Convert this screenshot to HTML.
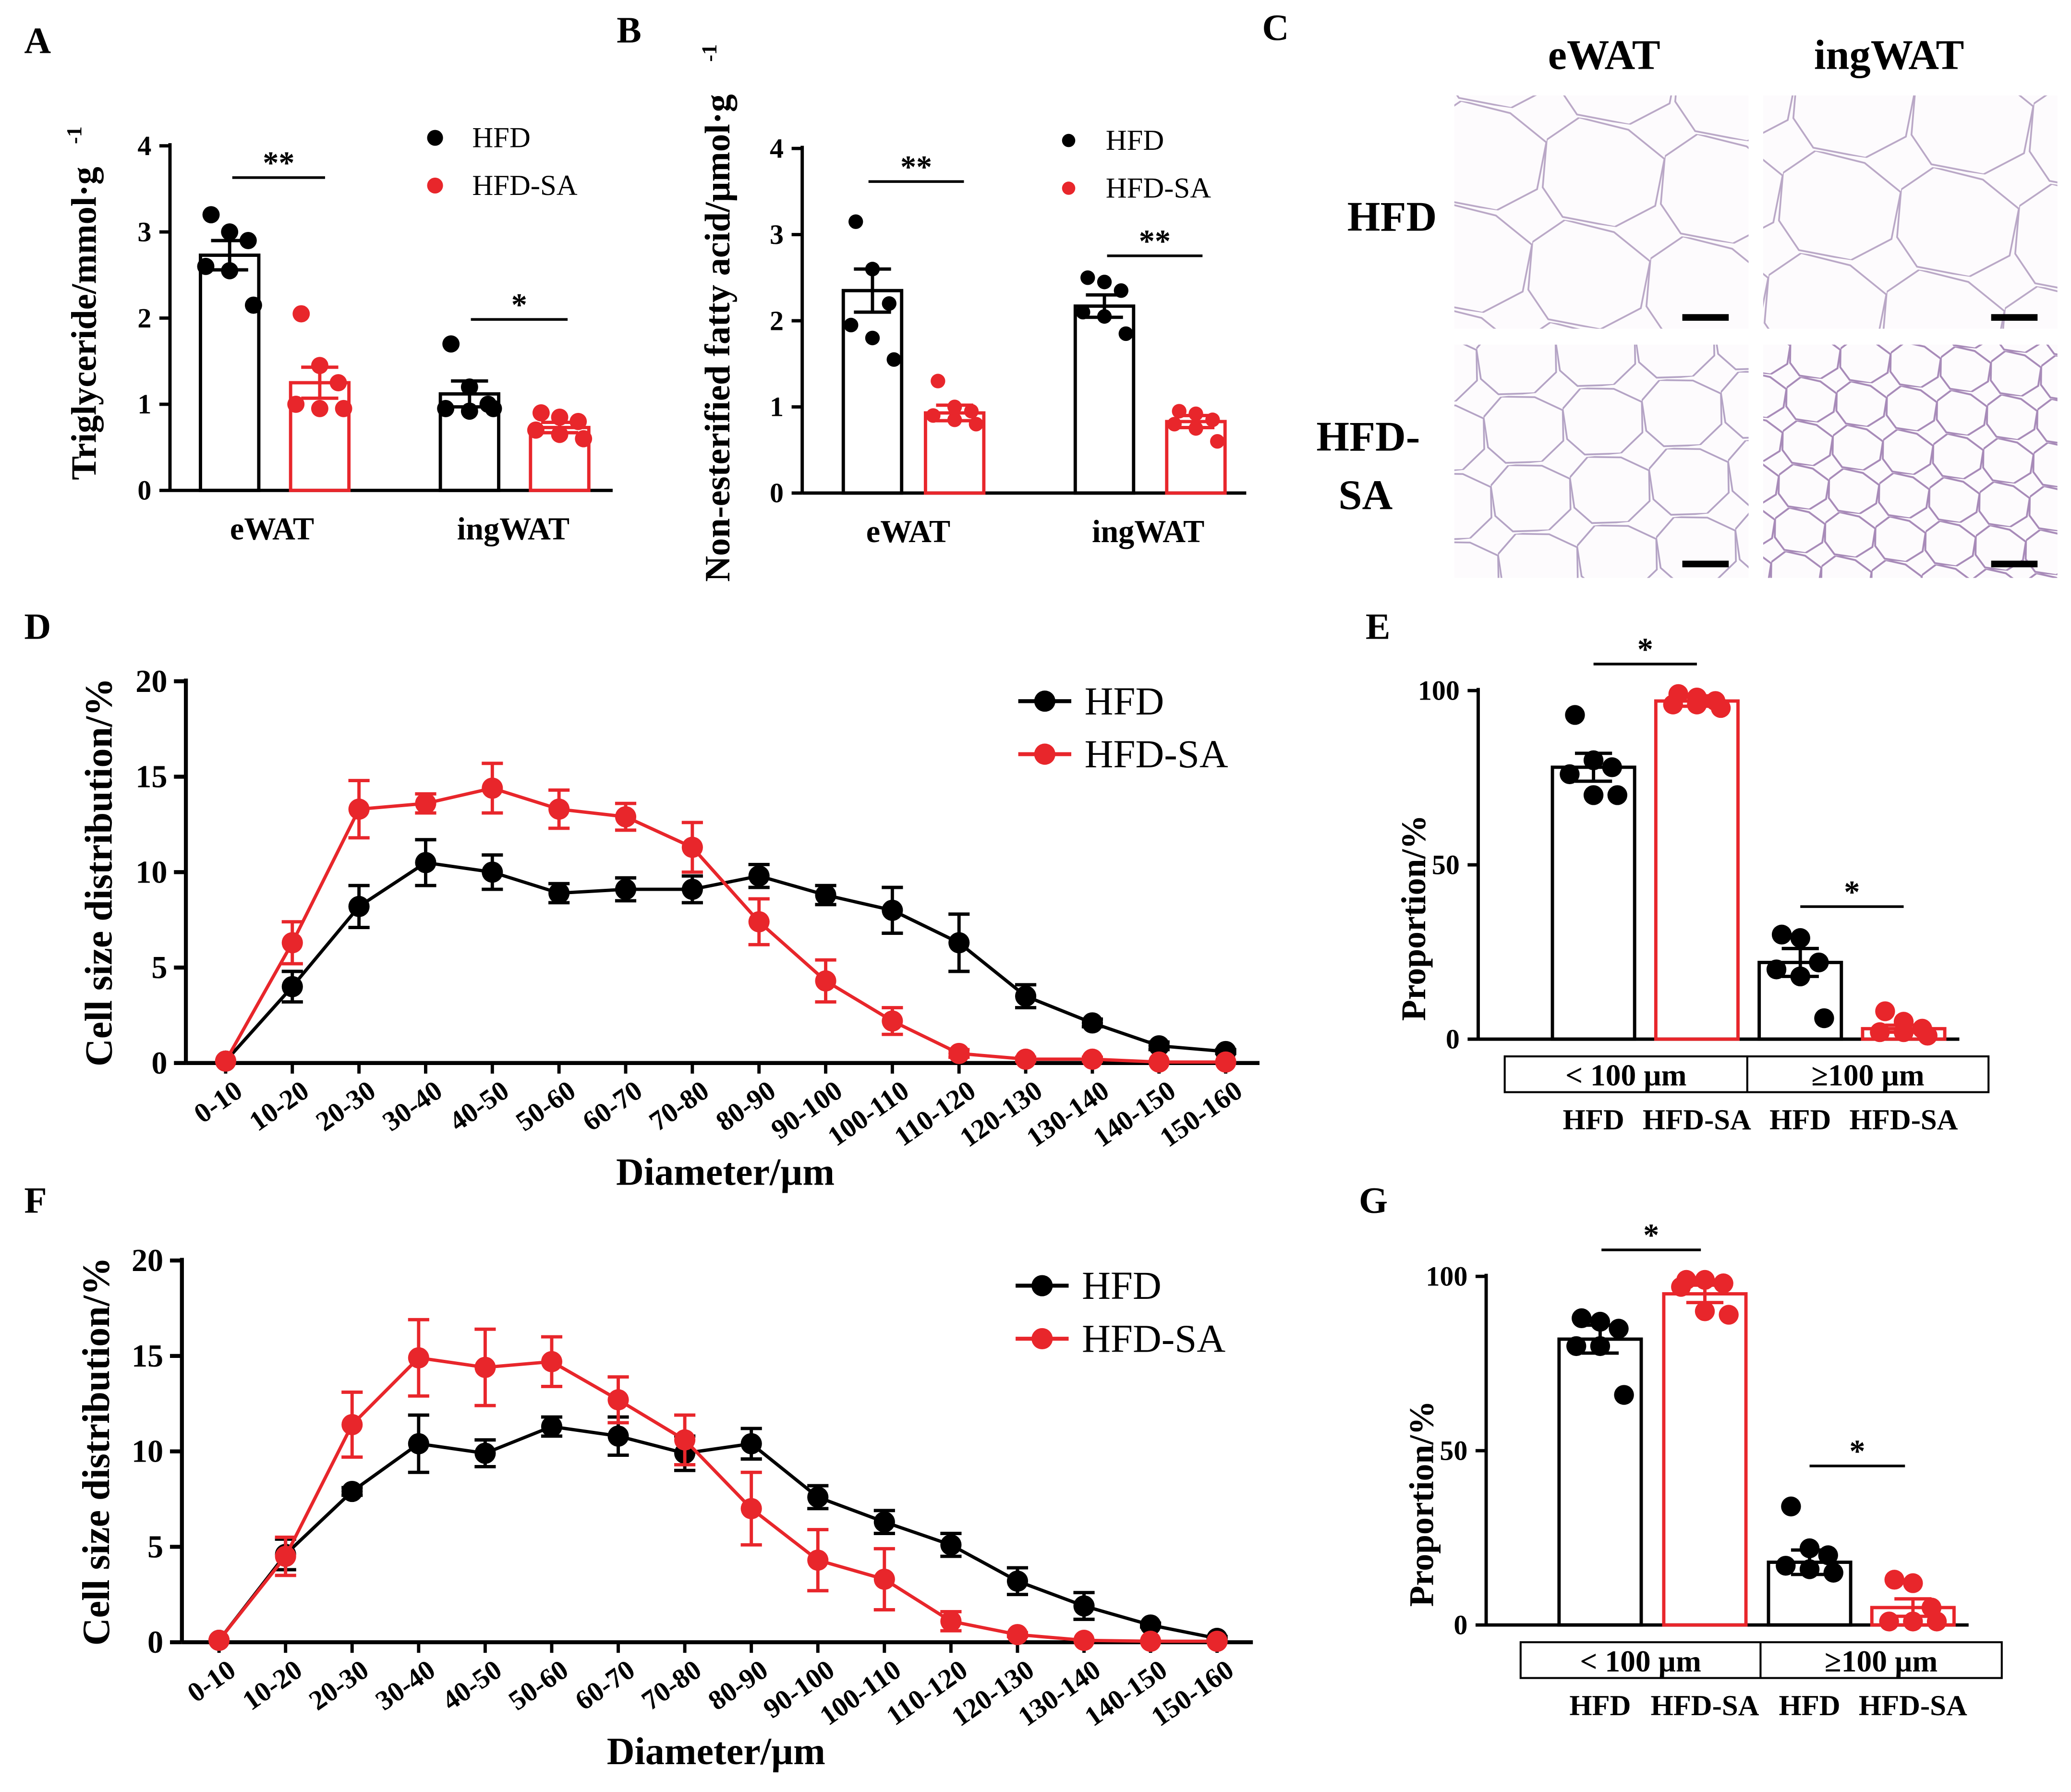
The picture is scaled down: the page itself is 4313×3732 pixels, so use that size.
<!DOCTYPE html>
<html><head><meta charset="utf-8">
<style>
html,body{margin:0;padding:0;background:#fff;}
svg{display:block;font-family:"Liberation Serif",serif;}
text{font-family:"Liberation Serif",serif;}
</style></head>
<body>
<svg id="fig" width="4313" height="3732" viewBox="0 0 1562 1352" xmlns="http://www.w3.org/2000/svg">
<defs>
<pattern id="cellBig" width="90" height="78" patternUnits="userSpaceOnUse" patternTransform="rotate(8)">
<path d="M0 20 L22 0 L60 4 L90 22 L88 58 L60 78 L20 76 L2 56 Z" fill="none" stroke="#b9a7c6" stroke-width="1.3"/>
</pattern>
<pattern id="cellMid" width="60" height="52" patternUnits="userSpaceOnUse" patternTransform="rotate(-6)">
<path d="M0 14 L15 0 L40 3 L60 15 L58 38 L40 52 L13 50 L1 37 Z" fill="none" stroke="#b3a2c4" stroke-width="1.3"/>
</pattern>
<pattern id="cellSmall" width="38" height="33" patternUnits="userSpaceOnUse" patternTransform="rotate(5)">
<path d="M0 9 L10 0 L25 2 L38 10 L37 24 L25 33 L9 32 L1 23 Z" fill="none" stroke="#a78ab8" stroke-width="1.4"/>
</pattern>
</defs>
<g id="root"></g>
</svg>
<script>
// ---------- data ----------
const triCats = ["eWAT","ingWAT"];
const triHFD = [2.73, 1.12];
const triSA = [1.25, 0.73];
const triHFDerr = [0.17, 0.15];
const triSAerr = [0.18, 0.06];
const triPtsHFD = [[3.2,3.0,2.9,2.6,2.55,2.15],[1.7,1.2,1.0,0.95,0.92,0.95]];
const triPtsSA = [[2.05,1.45,1.25,1.0,0.95,0.95],[0.9,0.85,0.8,0.7,0.65,0.6]];

const nefaHFD = [2.35, 2.17];
const nefaSA = [0.93, 0.83];
const nefaHFDerr = [0.25, 0.13];
const nefaSAerr = [0.09, 0.07];
const nefaPtsHFD = [[3.15,2.6,2.2,1.95,1.8,1.55],[2.5,2.45,2.35,2.1,2.05,1.85]];
const nefaPtsSA = [[1.3,1.0,0.95,0.9,0.85,0.8],[0.95,0.92,0.85,0.8,0.75,0.6]];

const sizeCats = ["0-10","10-20","20-30","30-40","40-50","50-60","60-70","70-80","80-90","90-100","100-110","110-120","120-130","130-140","140-150","150-160"];
const dHFD = [0.1,4.0,8.2,10.5,10.0,8.9,9.1,9.1,9.8,8.8,8.0,6.3,3.5,2.1,0.9,0.6];
const dHFDerr = [0,0.8,1.1,1.2,0.9,0.5,0.6,0.7,0.6,0.5,1.2,1.5,0.6,0.2,0.2,0.1];
const dSA = [0.1,6.3,13.3,13.6,14.4,13.3,12.9,11.3,7.4,4.3,2.2,0.5,0.2,0.2,0.05,0.05];
const dSAerr = [0,1.1,1.5,0.5,1.3,1.0,0.7,1.3,1.2,1.1,0.7,0.2,0.1,0.1,0,0];
const fHFD = [0.1,4.6,7.9,10.4,9.9,11.3,10.8,9.9,10.4,7.6,6.3,5.1,3.2,1.9,0.9,0.2];
const fHFDerr = [0,0.8,0.2,1.5,0.7,0.5,1.0,0.9,0.8,0.6,0.6,0.6,0.7,0.7,0.1,0.1];
const fSA = [0.1,4.5,11.4,14.9,14.4,14.7,12.7,10.6,7.0,4.3,3.3,1.1,0.4,0.1,0.05,0.05];
const fSAerr = [0,1.0,1.7,2.0,2.0,1.3,1.2,1.3,1.9,1.6,1.6,0.5,0.1,0,0,0];

const eBars = [78,97,22,3];
const eErr = [4,1.5,4,1];
const ePts = [[93,80,78,76,70,70],[99,98,97,96,96,95],[30,29,22,20,18,6],[8,5,3,2,2,1]];
const gBars = [82,95,18,5];
const gErr = [4,2.5,3.5,2.5];
const gPts = [[88,87,85,80,80,66],[99,99,98,97,90,89],[34,22,20,17,16,15],[13,12,5,1,1,1]];

// ---------- helpers ----------
const NS="http://www.w3.org/2000/svg";
const root=document.getElementById('root');
function el(tag,attrs,parent,txt){const e=document.createElementNS(NS,tag);for(const k in attrs)e.setAttribute(k,attrs[k]);if(txt!==undefined)e.textContent=txt;(parent||root).appendChild(e);return e;}
function grp(name){const g=el('g',{});return g;}
function txt(g,x,y,s,size,opts){opts=opts||{};const t=el('text',Object.assign({x:x,y:y,'font-size':size,'font-family':'Liberation Serif, serif','font-weight':opts.w||'bold','text-anchor':opts.a||'middle',fill:opts.fill||'#000'},opts.extra||{}),g,s);return t;}
const RED="#e8262b";

[["A",18,40],["B",465,32],["C",952,30],["D",18,482],["E",1030,482],["F",18,915],["G",1025,915]].forEach(p=>{const g=grp('panel-label-'+p[0].toLowerCase());txt(g,p[1],p[2],p[0],28,{a:'start'});});

function barPanel(cfg){
  const g=grp(cfg.name);
  const y=v=>cfg.y0-(v-0)*(cfg.y0-cfg.yTop)/cfg.yMax;
  el('line',{x1:cfg.ax,y1:cfg.yTop-2,x2:cfg.ax,y2:cfg.y0,stroke:'#000','stroke-width':2.5},g);
  el('line',{x1:cfg.ax,y1:cfg.y0,x2:cfg.axEnd,y2:cfg.y0,stroke:'#000','stroke-width':2.5},g);
  cfg.ticks.forEach(t=>{el('line',{x1:cfg.ax-8,y1:y(t),x2:cfg.ax,y2:y(t),stroke:'#000','stroke-width':2.5},g);
    const tl=txt(g,cfg.ax-14,y(t)+7,String(t),cfg.tickSize||21,{a:'end'});});
  const yt=txt(g,0,0,cfg.ytitle,cfg.ytSize||24,{extra:{transform:`translate(${cfg.ytx},${cfg.yty}) rotate(-90)`}});
  
  const half=cfg.bw/2;
  cfg.centers.forEach((cx,i)=>{
    const col=cfg.colors[i];
    const b=el('rect',{x:cx-half,y:y(cfg.vals[i]),width:cfg.bw,height:cfg.y0-y(cfg.vals[i]),fill:'none',stroke:col,'stroke-width':2.5},g);
    
    const e1=y(cfg.vals[i]+cfg.errs[i]),e2=y(cfg.vals[i]-cfg.errs[i]);
    el('line',{x1:cx,y1:e1,x2:cx,y2:e2,stroke:col,'stroke-width':2.5},g);
    el('line',{x1:cx-14,y1:e1,x2:cx+14,y2:e1,stroke:col,'stroke-width':2.5},g);
    el('line',{x1:cx-14,y1:e2,x2:cx+14,y2:e2,stroke:col,'stroke-width':2.5},g);
    const offs=[-14,0,14,-18,0,18];
    cfg.pts[i].forEach((v,j)=>{const c=el('circle',{cx:cx+offs[j]*(cfg.jit||1),cy:y(v),r:cfg.r||6.5,fill:col},g);});
  });
  cfg.sig.forEach(s=>{el('line',{x1:s[0],y1:s[2],x2:s[1],y2:s[2],stroke:'#000','stroke-width':2},g);txt(g,(s[0]+s[1])/2,s[2]-3,s[3],24,{w:'bold'});});
  return {g,y};
}

// ----- Panel A -----
let A=barPanel({name:'panel-a-triglyceride-chart',ax:128,axEnd:462,y0:370,yTop:110,yMax:4,ticks:[0,1,2,3,4],ytitle:'Triglyceride/mmol·g',ytx:72,yty:244,ytSize:27,
 centers:[173,241,354,422],bw:44,vals:[triHFD[0],triSA[0],triHFD[1],triSA[1]],errs:[triHFDerr[0],triSAerr[0],triHFDerr[1],triSAerr[1]],
 pts:[triPtsHFD[0],triPtsSA[0],triPtsHFD[1],triPtsSA[1]],colors:['#000',RED,'#000',RED],sig:[[175,245,134,'**'],[355,428,241,'*']],r:6.5});
txt(A.g,0,0,'-1',16,{extra:{transform:'translate(61,102) rotate(-90)'}});
txt(A.g,205,407,triCats[0],24);txt(A.g,387,407,triCats[1],24);
el('circle',{cx:328,cy:104,r:6,fill:'#000'},A.g);txt(A.g,356,111,'HFD',22,{a:'start',w:'normal'});
el('circle',{cx:328,cy:140,r:6,fill:RED},A.g);txt(A.g,356,147,'HFD-SA',22,{a:'start',w:'normal'});

// ----- Panel B -----
let B=barPanel({name:'panel-b-nefa-chart',ax:605,axEnd:940,y0:372,yTop:112,yMax:4,ticks:[0,1,2,3,4],ytitle:'Non-esterified fatty acid/µmol·g',ytx:550,yty:255,ytSize:27,
 centers:[658,720,833,902],bw:44,vals:[nefaHFD[0],nefaSA[0],nefaHFD[1],nefaSA[1]],errs:[nefaHFDerr[0],nefaSAerr[0],nefaHFDerr[1],nefaSAerr[1]],
 pts:[nefaPtsHFD[0],nefaPtsSA[0],nefaPtsHFD[1],nefaPtsSA[1]],colors:['#000',RED,'#000',RED],sig:[[655,727,137,'**'],[835,907,193,'**']],r:5.5,jit:0.9});
txt(B.g,0,0,'-1',16,{extra:{transform:'translate(540,40) rotate(-90)'}});
txt(B.g,685,409,triCats[0],24);txt(B.g,866,409,triCats[1],24);
el('circle',{cx:806,cy:106,r:5,fill:'#000'},B.g);txt(B.g,834,113,'HFD',22,{a:'start',w:'normal'});
el('circle',{cx:806,cy:142,r:5,fill:RED},B.g);txt(B.g,834,149,'HFD-SA',22,{a:'start',w:'normal'});

// ----- Panel C -----
(function(){const g=grp('panel-c-histology');
 const imgs=[[1097,72,'cellBig','histology-ewat-hfd'],[1330,72,'cellBig','histology-ingwat-hfd'],[1097,260,'cellMid','histology-ewat-hfd-sa'],[1330,260,'cellSmall','histology-ingwat-hfd-sa']];
 imgs.forEach(m=>{const r=el('rect',{x:m[0],y:m[1],width:222,height:176,fill:'#fdfbfd'},g);
  el('rect',{x:m[0],y:m[1],width:222,height:176,fill:`url(#${m[2]})`},g);
  const sb=el('rect',{x:m[0]+172,y:m[1]+165-(m[1]>100?2:0),width:35,height:5,fill:'#000'},g);});
 txt(g,1210,52,'eWAT',32);txt(g,1425,52,'ingWAT',32);
 txt(g,1050,174,'HFD',32);txt(g,1032,340,'HFD-',32);txt(g,1030,384,'SA',32);
})();

// ----- Line panels -----
function linePanel(cfg){
  const g=grp(cfg.name);
  const y=v=>cfg.y0-v*(cfg.y0-cfg.yTop)/20;
  const x=i=>cfg.x0+i*cfg.step;
  el('line',{x1:cfg.ax,y1:cfg.yTop-2,x2:cfg.ax,y2:cfg.y0,stroke:'#000','stroke-width':3},g);
  el('line',{x1:cfg.ax,y1:cfg.y0,x2:cfg.axEnd,y2:cfg.y0,stroke:'#000','stroke-width':3},g);
  [0,5,10,15,20].forEach(t=>{el('line',{x1:cfg.ax-9,y1:y(t),x2:cfg.ax,y2:y(t),stroke:'#000','stroke-width':3},g);
    const tl=txt(g,cfg.ax-14,y(t)+8,String(t),24,{a:'end'});});
  sizeCats.forEach((c,i)=>{el('line',{x1:x(i),y1:cfg.y0,x2:x(i),y2:cfg.y0+8,stroke:'#000','stroke-width':2.5},g);
    const t=txt(g,0,0,c,21,{a:'end',extra:{transform:`translate(${x(i)+14},${cfg.y0+24}) rotate(-35)`}});});
  const xt=txt(g,cfg.xtx,cfg.xty,'Diameter/µm',29);
  const yt=txt(g,0,0,'Cell size distribution/%',29,{extra:{transform:`translate(${cfg.ytx},${cfg.yty}) rotate(-90)`}});
  [[cfg.hfd,cfg.hfdErr,'#000','series-hfd'],[cfg.sa,cfg.saErr,RED,'series-hfd-sa']].forEach(s=>{
    const sg=el('g',{},g);
    el('polyline',{points:s[0].map((v,i)=>x(i)+','+y(v)).join(' '),fill:'none',stroke:s[2],'stroke-width':2.5},sg);
    s[0].forEach((v,i)=>{const e=s[1][i];if(e>0){el('line',{x1:x(i),y1:y(v+e),x2:x(i),y2:y(v-e),stroke:s[2],'stroke-width':2.5},sg);
      el('line',{x1:x(i)-8,y1:y(v+e),x2:x(i)+8,y2:y(v+e),stroke:s[2],'stroke-width':2.5},sg);
      el('line',{x1:x(i)-8,y1:y(v-e),x2:x(i)+8,y2:y(v-e),stroke:s[2],'stroke-width':2.5},sg);}
      const p=el('circle',{cx:x(i),cy:y(v),r:8,fill:s[2]},sg);});
  });
  const lg=el('g',{},g);
  el('line',{x1:cfg.lx,y1:cfg.ly,x2:cfg.lx+40,y2:cfg.ly,stroke:'#000','stroke-width':3},lg);el('circle',{cx:cfg.lx+20,cy:cfg.ly,r:8,fill:'#000'},lg);
  txt(lg,cfg.lx+50,cfg.ly+10,'HFD',30,{a:'start',w:'normal'});
  el('line',{x1:cfg.lx,y1:cfg.ly+40,x2:cfg.lx+40,y2:cfg.ly+40,stroke:RED,'stroke-width':3},lg);el('circle',{cx:cfg.lx+20,cy:cfg.ly+40,r:8,fill:RED},lg);
  txt(lg,cfg.lx+50,cfg.ly+50,'HFD-SA',30,{a:'start',w:'normal'});
}
linePanel({name:'panel-d-cell-size-ewat',ax:140,axEnd:950,y0:802,yTop:514,x0:170,step:50.3,hfd:dHFD,hfdErr:dHFDerr,sa:dSA,saErr:dSAerr,xtx:547,xty:894,ytx:84,yty:658,lx:768,ly:529});
linePanel({name:'panel-f-cell-size-ingwat',ax:137,axEnd:945,y0:1239,yTop:951,x0:165,step:50.2,hfd:fHFD,hfdErr:fHFDerr,sa:fSA,saErr:fSAerr,xtx:540,xty:1331,ytx:82,yty:1095,lx:766,ly:970});

// ----- Proportion panels -----
function propPanel(cfg){
  const P=barPanel({name:cfg.name,ax:cfg.ax,axEnd:cfg.axEnd,y0:cfg.y0,yTop:cfg.yTop,yMax:100,ticks:[0,50,100],ytitle:'Proportion/%',ytx:cfg.ax-40,yty:(cfg.y0+cfg.yTop)/2+40,
   centers:cfg.centers,bw:62,vals:cfg.vals,errs:cfg.errs,pts:cfg.pts,colors:['#000',RED,'#000',RED],sig:cfg.sig,r:7.5,ytSize:26,tickSize:21});
  const g=P.g;
  el('rect',{x:cfg.bx0,y:cfg.by,width:cfg.bx1-cfg.bx0,height:27,fill:'none',stroke:'#000','stroke-width':1.5},g);
  el('line',{x1:cfg.bdiv,y1:cfg.by,x2:cfg.bdiv,y2:cfg.by+27,stroke:'#000','stroke-width':1.5},g);
  txt(g,(cfg.bx0+cfg.bdiv)/2,cfg.by+22,'< 100 µm',23);txt(g,(cfg.bdiv+cfg.bx1)/2,cfg.by+22,'≥100 µm',23);
  ['HFD','HFD-SA','HFD','HFD-SA'].forEach((s,i)=>txt(g,cfg.centers[i],cfg.by+55,s,22));
}
propPanel({name:'panel-e-proportion-ewat',ax:1115,axEnd:1478,y0:784,yTop:521,centers:[1202,1280,1358,1436],vals:eBars,errs:eErr,pts:ePts,
 sig:[[1202,1280,501,'*'],[1358,1436,684,'*']],bx0:1135,bx1:1500,bdiv:1318,by:797});
propPanel({name:'panel-g-proportion-ingwat',ax:1121,axEnd:1485,y0:1226,yTop:963,centers:[1207,1286,1365,1443],vals:gBars,errs:gErr,pts:gPts,
 sig:[[1208,1283,943,'*'],[1365,1437,1106,'*']],bx0:1147,bx1:1510,bdiv:1328,by:1239});
</script>
</body></html>
